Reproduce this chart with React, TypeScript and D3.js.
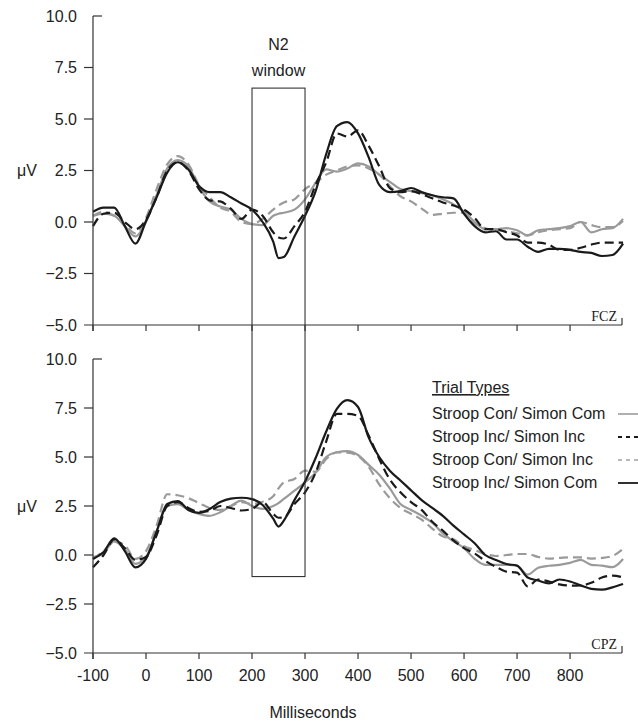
import React, { useEffect, useRef } from "react";
import * as d3 from "d3";

// time points (ms)
const times = [
  -100, -80, -60, -40, -20, 0, 20, 40, 60, 80, 100, 120, 140, 160, 180, 200, 220, 240, 250,
  260, 280, 300, 320, 340, 360, 380, 400, 420, 440, 460, 480, 500, 520, 540, 560, 580, 600,
  620, 640, 660, 680, 700, 720, 740, 760, 780, 800, 820, 840, 860, 880, 900,
];

// FCZ (top panel)
const fczConCom = [
  0.3, 0.4, 0.3, -0.2, -0.7, 0.0, 1.3, 2.6, 3.0, 2.7, 1.7, 1.0, 0.75, 0.6, 0.15, -0.1, -0.15, 0.3, 0.4,
  0.45, 0.6, 1.1, 1.9, 2.55, 2.45, 2.6, 2.85, 2.7, 2.3, 1.95, 1.6, 1.5, 1.4, 1.3, 1.1, 0.85, 0.5,
  0.0, -0.35, -0.35, -0.3, -0.4, -0.65, -0.4, -0.35, -0.3, -0.2, 0.0, -0.5, -0.35, -0.3, 0.15,
];
const fczIncInc = [
  -0.2, 0.4, 0.45, 0.0, -0.35, 0.1, 1.2, 2.5, 2.9, 2.5, 1.6, 1.05, 1.0, 0.65, 0.15, 0.6, 0.3, -0.5, -0.75,
  -0.8, -0.2, 0.5, 1.8, 2.9, 4.3, 4.15, 4.45, 3.7, 2.7, 1.65, 1.45, 1.5, 1.35, 1.15, 0.95, 0.8, 0.6,
  0.2, -0.35, -0.35, -0.5, -0.65, -1.0, -1.0, -1.1, -1.35, -1.35, -1.25, -1.1, -1.0, -1.0, -1.0,
];
const fczConInc = [
  0.3, 0.5, 0.3, -0.1, -0.55, 0.2, 1.6, 2.8, 3.2, 2.8, 1.8, 1.2, 0.7, 0.5, 0.0, -0.1, 0.15, 0.6, 0.8,
  0.95, 1.1, 1.6, 1.9, 2.3, 2.5, 2.7, 2.75, 2.6, 2.3, 1.75, 1.25, 1.0, 0.65, 0.35, 0.4, 0.45, 0.45,
  -0.05, -0.3, -0.4, -0.45, -0.55, -0.65, -0.5, -0.4, -0.35, -0.3, 0.0, -0.15, -0.25, -0.25, 0.05,
];
const fczIncCom = [
  0.5, 0.7, 0.7, -0.2, -1.05, 0.05, 1.2, 2.4, 2.9, 2.55, 1.75, 1.45, 1.45, 1.2, 0.9, 0.6, 0.0, -0.95, -1.75,
  -1.7, -0.7, 0.3, 1.5, 3.3, 4.65, 4.85, 4.3, 3.15, 1.8, 1.45, 1.5, 1.65, 1.45, 1.3, 1.2, 1.15, 0.4,
  -0.2, -0.5, -0.45, -0.85, -0.85, -1.2, -1.45, -1.3, -1.3, -1.35, -1.45, -1.5, -1.65, -1.6, -1.05,
];

// CPZ (bottom panel)
const cpzConCom = [
  -0.1, 0.1, 0.7, 0.3, -0.45, -0.1, 1.2, 2.5, 2.6, 2.3, 2.1, 2.0, 2.18, 2.5, 2.77, 2.5, 2.35, 2.5, 2.65,
  2.86, 3.28, 3.71, 4.2, 5.0, 5.24, 5.3, 5.1, 4.6, 4.1, 3.4, 2.6, 2.3, 2.0, 1.65, 1.1, 0.7, 0.35,
  -0.2, -0.5, -0.5, -0.5, -0.55, -1.0, -0.65, -0.55, -0.5, -0.4, -0.25, -0.5, -0.54, -0.62, -0.2,
];
const cpzIncInc = [
  -0.63, 0.0, 0.8, 0.35, -0.25, -0.1, 1.0, 2.5, 2.7, 2.4, 2.2, 2.25, 2.5, 2.4, 2.27, 2.35, 2.7, 2.1, 1.9,
  1.92, 2.6, 3.2, 4.2, 5.8, 7.2, 7.2, 7.1, 6.1, 4.9, 3.85, 3.2, 2.7, 2.3, 1.7, 1.24, 0.75, 0.35,
  0.08, -0.3, -0.6, -0.85, -0.9, -1.6, -1.25, -1.35, -1.5, -1.56, -1.55, -1.42, -1.15, -1.05, -1.14,
];
const cpzConInc = [
  -0.2, 0.2, 0.7, 0.5, -0.2, 0.2, 1.5, 3.1, 3.05, 2.9, 2.65, 2.4, 2.3, 2.5, 2.7, 2.6, 2.72, 3.0, 3.4,
  3.71, 3.88, 4.3, 4.25, 4.9, 5.24, 5.22, 5.05, 4.5, 3.6, 2.9, 2.4, 2.1, 1.8, 1.35, 0.95, 0.8, 0.45,
  0.25, 0.05, -0.05, 0.0, 0.05, 0.05, -0.1, -0.18, -0.15, -0.12, -0.12, -0.18, -0.15, -0.05, 0.31,
];
const cpzIncCom = [
  -0.2, 0.15, 0.85, 0.2, -0.63, -0.2, 1.2, 2.6, 2.75, 2.3, 2.15, 2.35, 2.7, 2.88, 2.92, 2.85, 2.55, 1.85, 1.45,
  1.75, 2.8, 3.75, 4.95, 6.3, 7.45, 7.9, 7.55, 6.0, 5.0, 4.3, 3.8, 3.3, 2.8, 2.4, 2.0, 1.5, 1.05,
  0.6, 0.0, -0.25, -0.46, -0.54, -1.15, -1.3, -1.45, -1.25, -1.35, -1.55, -1.73, -1.77, -1.65, -1.48,
];

const yTicks = [-5, -2.5, 0, 2.5, 5, 7.5, 10];
const xTicks = [-100, 0, 100, 200, 300, 400, 500, 600, 700, 800];
const legendLabels = [
  "Stroop Con/ Simon Com",
  "Stroop Inc/ Simon Inc",
  "Stroop Con/ Simon Inc",
  "Stroop Inc/ Simon Com",
];
const windowRange = [200, 300];

const sans = "'Liberation Sans', Arial, sans-serif";

const App = () => {
  const ref = useRef<SVGSVGElement>(null);

  useEffect(() => {
    const svg = d3.select(ref.current);
    svg.selectAll("*").remove();

    const x = d3.scaleLinear().domain([-100, 898]).range([93, 622]);

    const panels = [
      { name: "FCZ", top: 16, bottom: 325, series: [fczConCom, fczIncInc, fczConInc, fczIncCom] },
      { name: "CPZ", top: 359, bottom: 653, series: [cpzConCom, cpzIncInc, cpzConInc, cpzIncCom] },
    ];

    // same order as legendLabels
    const styles = [
      { color: "#9a9a9a", dash: null, lw: 2.2, legColor: "#a8a8a8", legDash: null },
      { color: "#1a1a1a", dash: "9,5", lw: 2.2, legColor: "#1a1a1a", legDash: "4,4" },
      { color: "#9a9a9a", dash: "9,5", lw: 2.2, legColor: "#b8b8b8", legDash: "4,4" },
      { color: "#1a1a1a", dash: null, lw: 2.2, legColor: "#1a1a1a", legDash: null },
    ];
    const drawOrder = [0, 2, 1, 3];

    const yScales = panels.map((p) =>
      d3.scaleLinear().domain([-5, 10]).range([p.bottom, p.top])
    );

    panels.forEach((p, pi) => {
      const y = yScales[pi];
      const g = svg.append("g");

      // curves
      const line = d3
        .line<number>()
        .x((d, i) => x(times[i]))
        .y((d) => y(d))
        .curve(d3.curveMonotoneX);

      drawOrder.forEach((si) => {
        g.append("path")
          .datum(p.series[si])
          .attr("fill", "none")
          .attr("stroke", styles[si].color)
          .attr("stroke-width", styles[si].lw)
          .attr("stroke-dasharray", styles[si].dash)
          .attr("stroke-linejoin", "round")
          .attr("d", line);
      });

      // y axis
      g.append("line")
        .attr("x1", x(-100)).attr("x2", x(-100))
        .attr("y1", y(10)).attr("y2", y(-5) + 6)
        .attr("stroke", "#333").attr("stroke-width", 1.2);
      g.append("line")
        .attr("x1", x(-100)).attr("x2", x(-100) + 9)
        .attr("y1", y(10)).attr("y2", y(10))
        .attr("stroke", "#333").attr("stroke-width", 1.2);
      yTicks.filter((t) => t !== 10 && t !== -5).forEach((t) => {
        g.append("line")
          .attr("x1", x(-100) - 9).attr("x2", x(-100))
          .attr("y1", y(t)).attr("y2", y(t))
          .attr("stroke", "#333").attr("stroke-width", 1.2);
      });
      yTicks.forEach((t) => {
        g.append("text")
          .attr("x", 77)
          .attr("y", y(t))
          .attr("dy", "0.36em")
          .attr("text-anchor", "end")
          .attr("font-family", sans)
          .attr("font-size", 16)
          .attr("fill", "#222")
          .text(d3.format(".1f")(t));
      });
      g.append("text")
        .attr("x", 17)
        .attr("y", y(2.5))
        .attr("dy", "0.36em")
        .attr("font-family", sans)
        .attr("font-size", 16)
        .attr("fill", "#222")
        .text("\u03bcV");

      // x axis
      g.append("line")
        .attr("x1", x(-100) - 9).attr("x2", x(898))
        .attr("y1", y(-5)).attr("y2", y(-5))
        .attr("stroke", "#333").attr("stroke-width", 1.2);
      xTicks.forEach((t) => {
        g.append("line")
          .attr("x1", x(t)).attr("x2", x(t))
          .attr("y1", y(-5)).attr("y2", y(-5) + 6)
          .attr("stroke", "#333").attr("stroke-width", 1.2);
      });
      g.append("line")
        .attr("x1", x(898)).attr("x2", x(898))
        .attr("y1", y(-5) - 7).attr("y2", y(-5))
        .attr("stroke", "#333").attr("stroke-width", 1.2);
      g.append("text")
        .attr("x", x(898) - 5)
        .attr("y", y(-5) - 4)
        .attr("text-anchor", "end")
        .attr("font-family", "'Liberation Serif', 'Times New Roman', serif")
        .attr("font-size", 14)
        .attr("fill", "#222")
        .text(p.name);
    });

    // x tick labels on bottom panel
    const yb = yScales[1];
    xTicks.forEach((t) => {
      svg.append("text")
        .attr("x", x(t))
        .attr("y", yb(-5) + 28)
        .attr("text-anchor", "middle")
        .attr("font-family", sans)
        .attr("font-size", 16)
        .attr("fill", "#222")
        .text(t);
    });
    svg.append("text")
      .attr("x", 313)
      .attr("y", 718)
      .attr("text-anchor", "middle")
      .attr("font-family", sans)
      .attr("font-size", 16)
      .attr("fill", "#222")
      .text("Milliseconds");

    // N2 window box spanning both panels
    const yt = yScales[0];
    svg.append("rect")
      .attr("x", x(windowRange[0]))
      .attr("y", yt(6.5))
      .attr("width", x(windowRange[1]) - x(windowRange[0]))
      .attr("height", yb(-1.1) - yt(6.5))
      .attr("fill", "none")
      .attr("stroke", "#333")
      .attr("stroke-width", 1.1);
    const cx = (x(windowRange[0]) + x(windowRange[1])) / 2;
    svg.append("text")
      .attr("x", cx).attr("y", 50)
      .attr("text-anchor", "middle")
      .attr("font-family", sans).attr("font-size", 16).attr("fill", "#222")
      .text("N2");
    svg.append("text")
      .attr("x", cx).attr("y", 76)
      .attr("text-anchor", "middle")
      .attr("font-family", sans).attr("font-size", 16).attr("fill", "#222")
      .text("window");

    // legend
    const lg = svg.append("g");
    lg.append("text")
      .attr("x", 432).attr("y", 393)
      .attr("font-family", sans).attr("font-size", 16).attr("fill", "#222")
      .attr("text-decoration", "underline")
      .text("Trial Types");
    legendLabels.forEach((lab, i) => {
      const by = 419 + i * 23;
      lg.append("text")
        .attr("x", 432).attr("y", by)
        .attr("font-family", sans).attr("font-size", 16).attr("fill", "#222")
        .text(lab);
      lg.append("line")
        .attr("x1", 618).attr("x2", 645)
        .attr("y1", by - 5).attr("y2", by - 5)
        .attr("stroke", styles[i].legColor)
        .attr("stroke-width", 1.8)
        .attr("stroke-dasharray", styles[i].legDash);
    });
  }, []);

  return (
    <svg
      ref={ref}
      width={638}
      height={722}
      style={{ position: "absolute", left: 0, top: 0, background: "#fff" }}
    />
  );
};

export default App;
